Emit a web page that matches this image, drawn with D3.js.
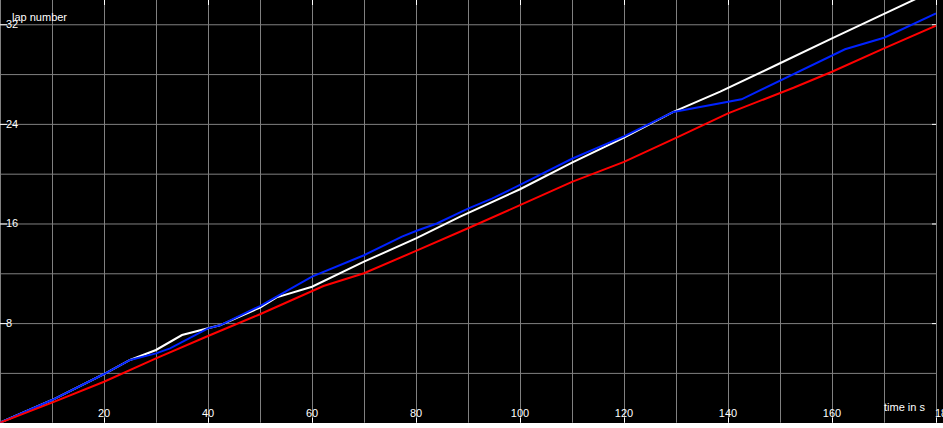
<!DOCTYPE html>
<html>
<head>
<meta charset="utf-8">
<script src="https://cdn.jsdelivr.net/npm/d3@7"></script>
<style>
  body { margin: 0; background: #fff; }
  text { font-family: "Liberation Sans", Arial, sans-serif; font-size: 11px; fill: #fff; }
</style>
</head>
<body>
<script>
// lap number vs time
var xTicks = [20, 40, 60, 80, 100, 120, 140, 160, 180];
var yTicks = [8, 16, 24, 32];

var redSeries = [[0,0],[10,1.61],[20,3.29],[30,5.17],[40,6.96],[50,8.71],[62.2,10.98],[70,12.0],[80,13.8],
  [90,15.62],[100,17.47],[110,19.34],[120,20.95],[130,22.88],[140,24.85],[152.6,26.9],[160,28.19],
  [170,30.07],[180,31.89]];

var blueSeries = [[0,0],[10,1.82],[20,3.91],[25,5.04],[30,5.57],[32.7,5.97],[40,7.58],[42.3,7.82],[50,9.37],
  [52.6,9.99],[60,11.73],[70,13.45],[77.3,14.94],[80,15.4],[84,16.0],[90,17.2],[94.6,18.0],[100,19.1],
  [110,21.2],[120,23.0],[129.5,24.96],[142.6,25.97],[162.5,29.99],[170,30.92],[180,32.87]];

var whiteSeries = [[0,0],[10,1.82],[20,3.91],[25,5.04],[30,5.84],[35,7.04],[40,7.58],[42.3,7.82],[50,9.25],
  [53.2,10.07],[60,10.92],[70,12.93],[80,14.81],[88.5,16.55],[100,18.75],[110,20.88],[120,22.9],
  [129.5,24.96],[138.5,26.59],[150,28.87],[160,30.87],[169.6,32.75],[180,34.8]];

var svgWidth = 943;
var svgHeight = 428;
var width = 936;
var height = 422.7;

var svg = d3.select("body").append("svg").attr("width", svgWidth).attr("height", svgHeight);

// black area, white strip left at the bottom
svg.append("rect").attr("width", svgWidth).attr("height", 423).attr("fill", "#000");

var x = d3.scaleLinear().domain([0, 180]).range([0, width]);
var y = d3.scaleLinear().domain([0, 33.95]).range([height, 0]);

// grid
svg.append("g")
  .attr("transform", `translate(0, ${height})`)
  .call(d3.axisBottom(x).tickValues(d3.range(0, 181, 10)).tickSize(-height).tickFormat(""))
  .call(g => g.select(".domain").remove())
  .selectAll("line").attr("stroke", "#808080");
svg.append("g")
  .call(d3.axisLeft(y).tickValues(d3.range(4, 33, 4)).tickSize(-width).tickFormat(""))
  .call(g => g.select(".domain").remove())
  .selectAll("line").attr("stroke", "#808080");

// white tick marks on all four sides
function ticks(axis, tr) {
  var g = svg.append("g").attr("transform", tr).call(axis);
  g.select(".domain").remove();
  g.selectAll("line").attr("stroke", "#fff");
  g.selectAll("text").remove();
}
ticks(d3.axisTop(x).tickValues(xTicks).tickSize(5), `translate(0, ${height})`);
ticks(d3.axisBottom(x).tickValues(xTicks).tickSize(5), "translate(0, 0)");
ticks(d3.axisRight(y).tickValues(yTicks).tickSize(7), "translate(0, 0)");
ticks(d3.axisLeft(y).tickValues(yTicks).tickSize(4), `translate(${width}, 0)`);

// tick labels
svg.append("g").selectAll("text")
  .data(xTicks)
  .enter()
  .append("text")
  .attr("x", d => d == 180 ? x(d) - 1 : x(d))
  .attr("y", 417)
  .attr("text-anchor", d => d == 180 ? "start" : "middle")
  .text(d => d);
svg.append("g").selectAll("text")
  .data(yTicks)
  .enter()
  .append("text")
  .attr("x", 6)
  .attr("y", d => y(d) + 4)
  .text(d => d);

// lines
svg.append("clipPath").attr("id", "clip")
  .append("rect").attr("width", width).attr("height", height);

var line = d3.line().x(d => x(d[0])).y(d => y(d[1]));
var plot = svg.append("g").attr("clip-path", "url(#clip)");
[[whiteSeries, "#ffffff"], [blueSeries, "#0022ff"], [redSeries, "#ff0000"]].forEach(function(s) {
  plot.append("path")
    .datum(s[0])
    .attr("d", line)
    .attr("fill", "none")
    .attr("stroke", s[1])
    .attr("stroke-width", 2);
});

// axis titles
svg.append("text").attr("x", 12).attr("y", 21).text("lap number");
svg.append("text").attr("x", 884).attr("y", 411).text("time in s");
</script>
</body>
</html>
